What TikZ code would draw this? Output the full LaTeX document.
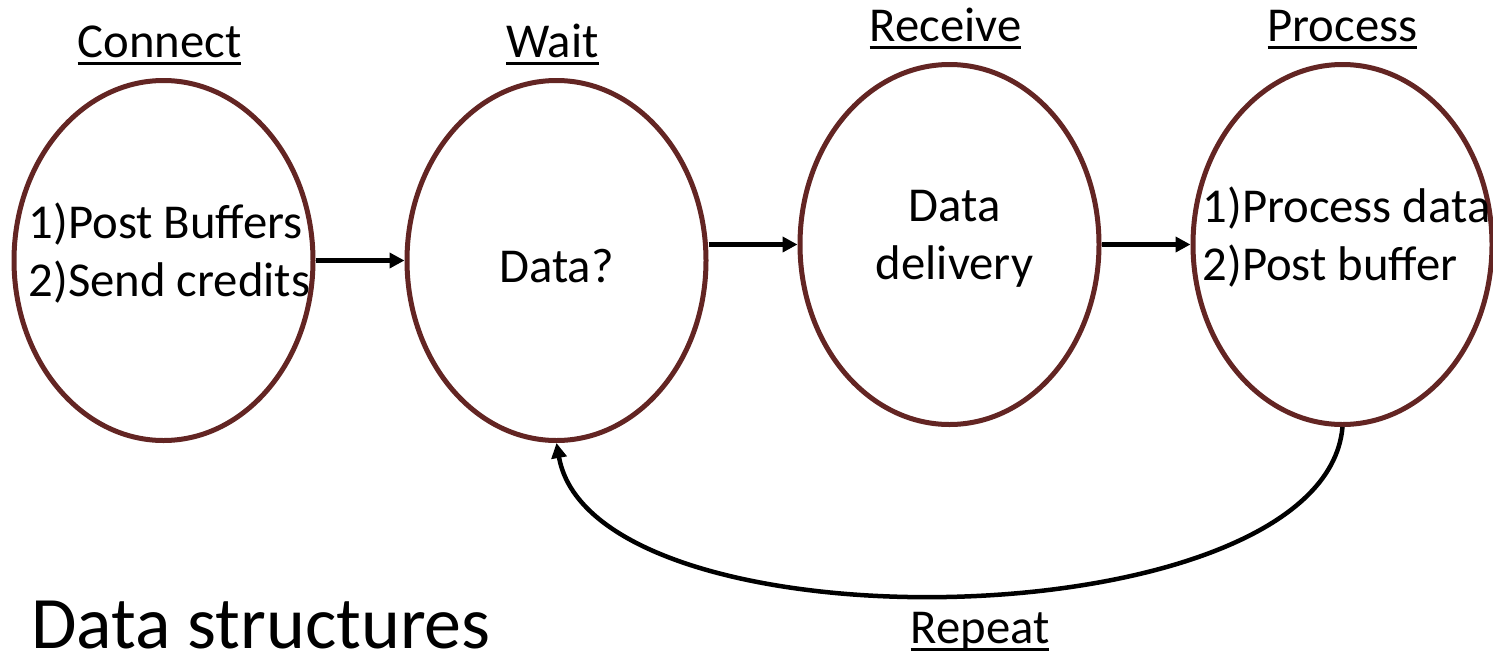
\documentclass[tikz,border=0pt]{standalone}
\usepackage{fontspec}
\setmainfont{Carlito}
\usetikzlibrary{shapes.geometric, arrows.meta, positioning}

\definecolor{stageline}{RGB}{99,37,35}
% underlined word, rule sits a fixed distance under the baseline
\newcommand{\ulword}[1]{\setbox0\hbox{#1}\rlap{\rule[-8pt]{\wd0}{3.5pt}}\box0}

\begin{document}
\begin{tikzpicture}[
    x=1pt, y=-1pt,
    node distance=89pt,
    stage/.style={draw=stageline, line width=5pt, ellipse, minimum width=299pt, minimum height=360pt, inner sep=0pt},
    stagetext/.style={font=\fontsize{48.7}{58}\selectfont, align=left, inner sep=0pt},
    heading/.style={font=\fontsize{48.7}{58}\selectfont, inner sep=0pt},
    flow/.style={-{Triangle[length=15pt, width=15pt]}, line width=4.5pt}
]
    \useasboundingbox (0,0) rectangle (1493,654);

    \node[stage] (connect) at (163.5,260.5) {};
    \node[stage, right=of connect] (wait) {};
    \node[stage, right=of wait, yshift=16pt] (receive) {};
    \node[stage, right=of receive] (process) {};

    \node[heading, above=21pt of connect, anchor=base, xshift=-4pt] (connecttitle) {\ulword{Connect}};
    \node[heading, above=21pt of wait, anchor=base, xshift=-4pt] (waittitle) {\ulword{Wait}};
    \node[heading, above=21pt of receive, anchor=base, xshift=-4pt] (receivetitle) {\ulword{Receive}};
    \node[heading, above=21pt of process, anchor=base] (processtitle) {\ulword{Process}};

    \node[stagetext, xshift=6pt, yshift=7pt] (connecttext) at (connect) {1)Post Buffers\\2)Send credits};
    \node[stagetext, yshift=-6pt] (waittext) at (wait) {Data?};
    \node[stagetext, align=center, xshift=5pt, yshift=6pt] (receivetext) at (receive) {Data\\delivery};
    \node[stagetext, xshift=4pt, yshift=7pt] (processtext) at (process) {1)Process data\\2)Post buffer};

    \draw[flow] (connect) -- (wait);
    \draw[flow] (wait.east |- receive) -- (receive);
    \draw[flow] (receive) -- (process);
    \draw[flow] (process.south) to[out=-95, in=-80, looseness=0.7] (wait.south);

    \node[heading, anchor=base] (repeat) at (980,643) {\ulword{Repeat}};
    \node[anchor=base west, inner sep=0pt, font=\fontsize{74}{80}\selectfont] (datastruct) at (31,648) {Data structures};
\end{tikzpicture}
\end{document}
